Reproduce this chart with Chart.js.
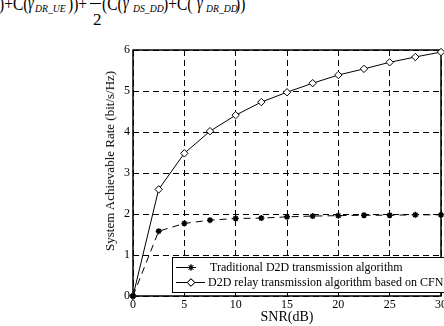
<!DOCTYPE html>
<html>
<head>
<meta charset="utf-8">
<script src="https://cdn.jsdelivr.net/npm/chart.js@4/dist/chart.umd.min.js"></script>
<style>
    html, body { margin: 0; padding: 0; background: #fff; overflow: hidden; width: 444px; height: 326px; }
    #wrap { position: absolute; left: 0; top: 0; width: 460px; height: 326px; }
    .f { position: absolute; font-family: "Liberation Serif", "Times New Roman", serif; color: #000; white-space: nowrap;
         line-height: 1; transform-origin: left top; }
    .main { font-size: 18px; top: -5px; transform: scaleX(0.86); }
    .sub { font-size: 11px; font-style: italic; top: 3px; transform: scaleX(0.88); }
    .gam { font-size: 18px; font-style: italic; top: -6px; transform: scaleX(0.8); }
    #ytitle { position: absolute; left: 110px; top: 161px; transform: translate(-50%, -50%) rotate(-90deg);
              font-family: "Liberation Serif", serif; font-size: 13px; white-space: nowrap; color: #000; }
</style>
</head>
<body>
<!-- fragment of the formula cut off above the figure -->
<span class="f main" style="left:-1px">)+C(</span>
<span class="f gam" style="left:28px">γ</span>
<span class="f sub" style="left:35px">DR_UE</span>
<span class="f main" style="left:68px">))+</span>
<div style="position:absolute;left:90px;top:3px;width:11px;height:1px;background:#000"></div>
<span class="f" style="left:93px;top:11px;font-size:17px">2</span>
<span class="f main" style="left:102px">(C(</span>
<span class="f gam" style="left:123px">γ</span>
<span class="f sub" style="left:133px">DS_DD</span>
<span class="f main" style="left:163px">)+C(</span>
<span class="f gam" style="left:197px">γ</span>
<span class="f sub" style="left:206px">DR_DD</span>
<span class="f main" style="left:235px">))</span>

<div id="wrap"><canvas id="chart" width="460" height="326"></canvas></div>
<div id="ytitle">System Achievable Rate (bit/s/Hz)</div>

<script>
const snr = [0, 2.5, 5, 7.5, 10, 12.5, 15, 17.5, 20, 22.5, 25, 27.5, 30];
const traditional = [0, 1.58, 1.77, 1.85, 1.89, 1.90, 1.93, 1.95, 1.96, 1.97, 1.97, 1.98, 1.98];
const relay = [0, 2.60, 3.48, 4.02, 4.41, 4.73, 4.97, 5.19, 5.39, 5.54, 5.70, 5.83, 5.95];
const seriesNames = ['Traditional D2D transmission algorithm', 'D2D relay transmission algorithm based on CFN'];
const xTicks = [0, 5, 10, 15, 20, 25, 30];
const yTicks = [0, 1, 2, 3, 4, 5, 6];

const serif = 'Liberation Serif';

// frame around the plot area (MATLAB style box)
const boxPlugin = {
    id: 'box',
    beforeDatasetsDraw(chart) {
        const a = chart.chartArea;
        const ctx = chart.ctx;
        ctx.save();
        ctx.strokeStyle = '#000';
        ctx.lineWidth = 1.5;
        ctx.strokeRect(a.left, a.top, a.right - a.left, a.bottom - a.top);
        ctx.restore();
    }
};

// legend box drawn inside the plot, bottom left
const legendPlugin = {
    id: 'boxLegend',
    afterDraw(chart) {
        const ctx = chart.ctx;
        const x0 = 172, y0 = 257, y1 = 292;
        ctx.save();
        ctx.fillStyle = '#fff';
        ctx.fillRect(x0, y0, 300, y1 - y0);
        ctx.strokeStyle = '#000';
        ctx.lineWidth = 1;
        ctx.strokeRect(x0 + 0.5, y0 + 0.5, 300, y1 - y0);
        const rows = [267, 282];
        chart.data.datasets.forEach((ds, i) => {
            const y = rows[i];
            ctx.strokeStyle = '#000';
            ctx.lineWidth = 1;
            ctx.setLineDash([]);
            ctx.beginPath();
            ctx.moveTo(176, y + 0.5);
            ctx.lineTo(i === 0 ? 196 : 205, y + 0.5);
            ctx.stroke();
            Chart.helpers.drawPoint(ctx, {
                pointStyle: ds.pointStyle,
                radius: ds.pointRadius,
                borderWidth: ds.pointBorderWidth
            }, 191, y + 0.5);
            ctx.fillStyle = ds.pointBackgroundColor;
            ctx.fill();
            ctx.stroke();
            ctx.fillStyle = '#000';
            ctx.font = '12px "' + serif + '"';
            ctx.textBaseline = 'middle';
            ctx.fillText(ds.label, i === 0 ? 210 : 208, y + 1);
        });
        ctx.restore();
    }
};

new Chart(document.getElementById('chart'), {
    type: 'line',
    data: {
        datasets: [
            {
                label: seriesNames[0],
                data: snr.map((x, i) => ({ x: x, y: traditional[i] })),
                borderColor: '#000',
                borderWidth: 1,
                borderDash: [7, 5],
                pointStyle: 'star',
                pointRadius: 3,
                pointBorderWidth: 1.5,
                pointBackgroundColor: '#000',
                pointBorderColor: '#000',
                clip: false
            },
            {
                label: seriesNames[1],
                data: snr.map((x, i) => ({ x: x, y: relay[i] })),
                borderColor: '#000',
                borderWidth: 1,
                pointStyle: 'rectRot',
                pointRadius: 3.7,
                pointBorderWidth: 1,
                pointBackgroundColor: '#fff',
                pointBorderColor: '#000',
                clip: false
            }
        ]
    },
    options: {
        responsive: false,
        animation: false,
        layout: { padding: { left: 0, top: 50, right: 19, bottom: 0 } },
        plugins: {
            legend: { display: false },
            tooltip: { enabled: false }
        },
        scales: {
            x: {
                type: 'linear',
                min: 0,
                max: 30,
                afterBuildTicks(scale) { scale.ticks = xTicks.map(v => ({ value: v })); },
                afterFit(scale) { scale.height = 30; },
                ticks: { color: '#000', padding: 2, font: { family: serif, size: 12 } },
                grid: { color: '#000', lineWidth: 1, drawTicks: false, borderDash: [6, 4] },
                border: { display: false, dash: [6, 4] },
                title: { display: true, text: 'SNR(dB)', color: '#000', padding: 0, font: { family: serif, size: 14 } }
            },
            y: {
                min: 0,
                max: 6,
                afterBuildTicks(scale) { scale.ticks = yTicks.map(v => ({ value: v })); },
                afterFit(scale) { scale.width = 133; },
                ticks: { color: '#000', padding: 3, font: { family: serif, size: 12 } },
                grid: { color: '#000', lineWidth: 1, drawTicks: false, borderDash: [6, 4] },
                border: { display: false, dash: [6, 4] }
            }
        }
    },
    plugins: [boxPlugin, legendPlugin]
});
</script>
</body>
</html>
